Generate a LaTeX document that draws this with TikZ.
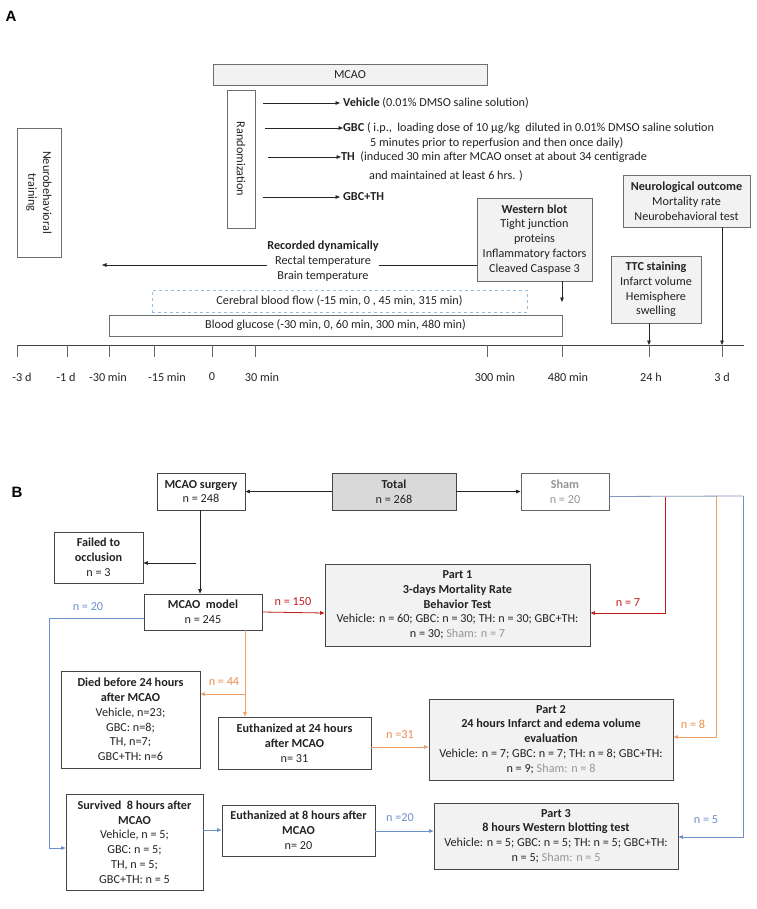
\documentclass[tikz,border=0pt]{standalone}
\usepackage{fontspec}
\setmainfont{Carlito}
\newfontfamily\labelfont{Liberation Sans}
\usetikzlibrary{arrows.meta,calc}
\definecolor{txt}{RGB}{35,35,35}
\definecolor{topgray}{RGB}{110,110,110}
\definecolor{botgray}{RGB}{70,70,70}
\definecolor{boxfill}{RGB}{242,242,242}
\definecolor{totfill}{RGB}{217,217,217}
\definecolor{shamgray}{RGB}{150,150,150}
\definecolor{cbfblue}{RGB}{150,190,225}
\definecolor{myred}{RGB}{192,30,30}
\definecolor{myorange}{RGB}{240,160,105}
\definecolor{myorangetxt}{RGB}{237,140,80}
\definecolor{myblue}{RGB}{110,145,205}
\definecolor{shamline}{RGB}{130,150,190}
\tikzset{
  topbox/.style={draw=topgray, line width=0.8pt, fill=boxfill, align=center, inner sep=1pt, text=txt},
  whitebox/.style={draw=topgray, line width=0.8pt, fill=white, align=center, inner sep=1pt, text=txt},
  botbox/.style={draw=botgray, line width=0.9pt, fill=white, align=center, inner sep=1pt, text=txt},
  partbox/.style={draw=botgray, line width=0.9pt, fill=boxfill, align=center, inner sep=1pt, text=txt},
  tip/.style={-{Triangle[length=4.5pt,width=3.6pt]}},
  arr/.style={tip, line width=0.7pt, draw=black!85},
  plain/.style={line width=0.7pt, draw=black!85},
  redarr/.style={tip, line width=0.8pt, draw=myred},
  orarr/.style={tip, line width=0.8pt, draw=myorange},
  bluearr/.style={tip, line width=0.8pt, draw=myblue},
  txtnode/.style={inner sep=0pt, text=txt, anchor=west},
  ticklab/.style={inner sep=0pt, text=txt},
  redlab/.style={inner sep=0pt, text=myred},
  orlab/.style={inner sep=0pt, text=myorangetxt},
  bluelab/.style={inner sep=0pt, text=myblue},
  panel/.style={inner sep=0pt, font=\labelfont\bfseries\fontsize{15}{15}\selectfont}
}
\begin{document}
\begin{tikzpicture}[x=1pt,y=-1pt,font=\fontsize{12.2}{14.8}\selectfont]
\useasboundingbox[fill=white] (0,0) rectangle (756,909);

% ---------------- Panel A ----------------
\node[panel] (pa) at (11,16) {A};

\node[topbox, minimum width=274pt, minimum height=21pt] (mcao) at (350,74.5) {MCAO};
\node[whitebox, rotate=-90, minimum width=138pt, minimum height=28pt] (rand) at (241,159) {Randomization};
\node[whitebox, rotate=-90, minimum width=129pt, minimum height=44pt] (ntrain) at (39,192.5) {Neurobehavioral\\training};

\node[txtnode] (veh) at (343,103) {\textbf{Vehicle} (0.01\% DMSO saline solution)};
\node[txtnode] (gbc) at (343,128) {\textbf{GBC} ( i.p.,\ \ loading dose of 10 μg/kg\ \ diluted in 0.01\% DMSO saline solution};
\node[txtnode] (gbcb) at (370,143) {5 minutes prior to reperfusion and then once daily)};
\node[txtnode] (th) at (341,157) {\textbf{TH}\ \ (induced 30 min after MCAO onset at about 34 centigrade};
\node[txtnode] (thb) at (369,176) {and maintained at least 6 hrs. )};
\node[txtnode] (gbcth) at (343,197) {\textbf{GBC+TH}};

\draw[arr] (263,0 |- veh.west) -- ([xshift=-3pt]veh.west);
\draw[arr] (265,0 |- gbc.west) -- (gbc.west);
\draw[arr] (268,0 |- th.west) -- (th.west);
\draw[arr] (263,0 |- gbcth.west) -- ([xshift=-3pt]gbcth.west);

\node[topbox, minimum width=115pt, minimum height=83pt] (wb) at (534.5,239.5)
  {\textbf{Western blot}\\Tight junction\\proteins\\Inflammatory factors\\Cleaved Caspase 3};
\node[topbox, minimum width=90pt, minimum height=67pt] (ttc) at (656,289.5)
  {\textbf{TTC staining}\\Infarct volume\\Hemisphere\\swelling};
\node[topbox, minimum width=127pt, minimum height=52pt] (nout) at (686.5,201)
  {\textbf{Neurological outcome}\\Mortality rate\\Neurobehavioral test};

\node[inner sep=0pt, align=center, text=txt] (rec) at (323,261.5)
  {\textbf{Recorded dynamically}\\Rectal temperature\\Brain temperature};
\coordinate (recend) at (102,265);
\draw[plain] (wb.west |- 0,265) -- (rec.east |- 0,265);
\draw[arr] (rec.west |- 0,265) -- (recend);

\node[draw=cbfblue, dashed, line width=0.8pt, minimum width=375pt, minimum height=22pt, inner sep=0pt, text=txt] (cbf) at (339.5,301)
  {Cerebral blood flow (-15 min, 0 , 45 min, 315 min)};
\node[whitebox, minimum width=453pt, minimum height=21pt] (bg) at (335.5,325.5)
  {Blood glucose (-30 min, 0, 60 min, 300 min, 480 min)};

% time axis
\coordinate (ax0) at (17,345);
\coordinate (ax1) at (744,345);
\draw[line width=0.8pt, draw=black!75] (ax0) -- (ax1);
\foreach \x in {17,67,109,154,212,255,487,562,649,722}
  \draw[line width=0.8pt, draw=black!60] (\x,345) -- (\x,357);
\node[ticklab] (t1) at (22,377) {-3 d};
\node[ticklab] (t2) at (66,377) {-1 d};
\node[ticklab] (t3) at (108,377) {-30 min};
\node[ticklab] (t4) at (167,377) {-15 min};
\node[ticklab] (t5) at (212,377) {0};
\node[ticklab] (t6) at (262,377) {30 min};
\node[ticklab] (t7) at (495,377) {300 min};
\node[ticklab] (t8) at (568,377) {480 min};
\node[ticklab] (t9) at (651,377) {24 h};
\node[ticklab] (t10) at (722,377) {3 d};

\coordinate (wbend) at (562,302);
\draw[arr] (562,0 |- wb.south) -- (wbend);
\draw[arr] (649,0 |- ttc.south) -- (649,0 |- ax0);
\draw[arr] (722,0 |- nout.south) -- (722,0 |- ax0);

% ---------------- Panel B ----------------
\node[panel] (pb) at (17,492) {B};

\node[botbox, minimum width=88pt, minimum height=37pt] (surg) at (201,491.5) {\textbf{MCAO surgery}\\n = 248};
\node[botbox, fill=totfill, minimum width=124pt, minimum height=37pt] (total) at (394,491.5) {\textbf{Total}\\n = 268};
\node[botbox, draw=black!60, text=shamgray, minimum width=88pt, minimum height=37pt] (sham) at (565,491.5) {\textbf{Sham}\\n = 20};
\node[botbox, minimum width=89pt, minimum height=51pt] (fail) at (98.5,557.5) {\textbf{Failed to}\\\textbf{occlusion}\\n = 3};
\node[botbox, minimum width=118pt, minimum height=36pt] (model) at (203,612) {\textbf{MCAO\ \ model}\\n = 245};
\node[partbox, minimum width=265pt, minimum height=82pt] (part1) at (457.5,605)
  {\textbf{Part 1}\\\textbf{3-days Mortality Rate}\\\textbf{Behavior Test}\\Vehicle: n = 60; GBC: n = 30; TH: n = 30; GBC+TH:\\n = 30; \textcolor{shamgray}{Sham: n = 7}};
\node[botbox, minimum width=139pt, minimum height=97pt] (died) at (130.5,719.5)
  {\textbf{Died before 24 hours}\\\textbf{after MCAO}\\Vehicle, n=23;\\GBC: n=8;\\TH, n=7;\\GBC+TH: n=6};
\node[botbox, minimum width=153pt, minimum height=52pt] (eu24) at (294.5,743)
  {\textbf{Euthanized at 24 hours}\\\textbf{after MCAO}\\n= 31};
\node[partbox, minimum width=244pt, minimum height=81pt] (part2) at (551,739.5)
  {\textbf{Part 2}\\\textbf{24 hours Infarct and edema volume}\\\textbf{evaluation}\\Vehicle: n = 7; GBC: n = 7; TH: n = 8; GBC+TH:\\n = 9; \textcolor{shamgray}{Sham: n = 8}};
\node[botbox, minimum width=137pt, minimum height=96pt] (surv) at (134.5,842)
  {\textbf{Survived\ \ 8 hours after}\\\textbf{MCAO}\\Vehicle, n = 5;\\GBC: n = 5;\\TH, n = 5;\\GBC+TH: n = 5};
\node[botbox, minimum width=153pt, minimum height=51pt] (eu8) at (298.5,830.5)
  {\textbf{Euthanized at 8 hours after}\\\textbf{MCAO}\\n= 20};
\node[partbox, minimum width=244pt, minimum height=66pt] (part3) at (556,836)
  {\textbf{Part 3}\\\textbf{8 hours Western blotting test}\\Vehicle: n = 5; GBC: n = 5; TH: n = 5; GBC+TH:\\n = 5; \textcolor{shamgray}{Sham: n = 5}};

% black connectors
\draw[arr] (total.west) -- (surg.east);
\draw[arr] (total.east) -- (sham.west);
\draw[arr] (200,0 |- surg.south) -- (200,0 |- model.north);
\draw[arr] (196,563) -- (fail.east |- 0,563);

% red
\draw[redarr] (model.east |- 0,612) -- (part1.west |- 0,613);
\node[redlab] (l150) at (293,602) {n = 150};

% sham branches
\coordinate (sr) at (665,497);
\coordinate (so) at (716,496);
\coordinate (sb) at (743,496);
\draw[line width=0.8pt, draw=shamline] ([yshift=-5pt]sham.east) -- (sb);
\draw[redarr] (sr) -- (665,613) -- (part1.east |- 0,613);
\node[redlab] (l7) at (628,603) {n = 7};
\draw[orarr] (so) -- (716,737) -- (part2.east |- 0,737);
\node[orlab] (l8) at (693,724) {n = 8};
\draw[bluearr] (sb) -- (743,837) -- (part3.east |- 0,837);
\node[bluelab] (l5) at (706,820) {n = 5};

% orange
\draw[orarr] (245,0 |- model.south) -- (245,0 |- eu24.north);
\draw[orarr] (245,694) -- (died.east |- 0,694);
\node[orlab] (l44) at (224,682) {n = 44};
\draw[orarr] (eu24.east |- 0,747) -- (part2.west |- 0,747);
\node[orlab] (l31) at (400,735) {n =31};

% blue
\draw[bluearr] (model.west |- 0,618) -- (49,618) -- (49,848) -- (surv.west |- 0,848);
\node[bluelab] (l20) at (88,607) {n = 20};
\draw[bluearr] (surv.east |- 0,830) -- (eu8.west |- 0,830);
\draw[bluearr] (eu8.east |- 0,831) -- (part3.west |- 0,831);
\node[bluelab] (l20b) at (400,818) {n =20};
\end{tikzpicture}
\end{document}
